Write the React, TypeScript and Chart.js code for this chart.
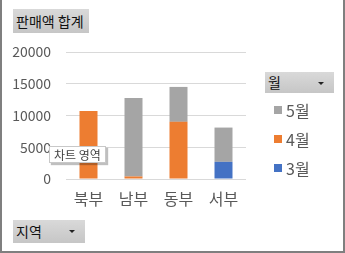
import React, { useEffect, useRef } from "react";
import { Chart, registerables } from "chart.js";

Chart.register(...registerables);

const categories = ["북부", "남부", "동부", "서부"];
const seriesNames = ["3월", "4월", "5월"];
const march = [null, null, null, 2700];
const april = [10700, 400, 9000, null];
const may = [null, 12350, 5500, 5400];
const seriesColors = ["#4472C4", "#ED7D31", "#A5A5A5"];
const yTicks = [0, 5000, 10000, 15000, 20000];

const FONT = "'Noto Sans CJK KR', 'Noto Sans', sans-serif";

function Arrow() {
  return (
    <div
      style={{
        position: "absolute",
        right: 10,
        top: 10,
        width: 0,
        height: 0,
        borderLeft: "3px solid transparent",
        borderRight: "3px solid transparent",
        borderTop: "3px solid #222",
      }}
    />
  );
}

function FieldButton(props: { left: number; top: number; width: number; height: number; label: string; arrow?: boolean }) {
  return (
    <div
      style={{
        position: "absolute",
        left: props.left,
        top: props.top,
        width: props.width,
        height: props.height,
        background: "linear-gradient(to bottom, #d9d9d9, #c6c6c6)",
        fontFamily: FONT,
        fontSize: 14,
        color: "#111",
        lineHeight: props.height + "px",
        paddingLeft: 3,
        boxSizing: "border-box",
        whiteSpace: "nowrap",
      }}
    >
      {props.label}
      {props.arrow ? <Arrow /> : null}
    </div>
  );
}

export default function App() {
  const ref = useRef<HTMLCanvasElement>(null);

  useEffect(() => {
    if (!ref.current) return;
    const data = [march, april, may];
    const chart = new Chart(ref.current, {
      type: "bar",
      data: {
        labels: categories,
        datasets: seriesNames.map((name, i) => ({
          label: name,
          data: data[i],
          backgroundColor: seriesColors[i],
          borderWidth: 0,
          categoryPercentage: 1,
          barPercentage: 0.4,
        })),
      },
      options: {
        animation: false,
        responsive: false,
        maintainAspectRatio: false,
        events: [],
        layout: { padding: { left: 0, right: 99, top: 52, bottom: 0 } },
        plugins: { legend: { display: false }, tooltip: { enabled: false }, title: { display: false } },
        scales: {
          x: {
            stacked: true,
            grid: { display: false, drawTicks: false },
            border: { display: false },
            ticks: { font: { family: FONT, size: 16 }, color: "#595959", padding: 10 },
            afterFit: (s: any) => {
              s.height = 74;
            },
          },
          y: {
            stacked: true,
            min: yTicks[0],
            max: yTicks[yTicks.length - 1],
            afterBuildTicks: (s: any) => {
              s.ticks = yTicks.map((v) => ({ value: v }));
            },
            grid: { color: "#d9d9d9", lineWidth: 1, drawTicks: false },
            border: { display: false },
            ticks: {
              font: { family: FONT, size: 14 },
              color: "#595959",
              padding: 15,
              callback: (v: any) => String(v),
            },
            afterFit: (s: any) => {
              s.width = 66;
            },
          },
        },
      },
    });
    return () => chart.destroy();
  }, []);

  const legendItems = seriesNames.map((n, i) => ({ n, c: seriesColors[i] })).reverse();

  return (
    <div style={{ position: "fixed", left: 0, top: 0, width: 345, height: 253, background: "#fff", overflow: "hidden" }}>
      <canvas ref={ref} width={345} height={253} style={{ position: "absolute", left: 0, top: 0, width: 345, height: 253 }} />
      <FieldButton left={13} top={9} width={76} height={24} label="판매액 합계" />
      <FieldButton left={13} top={220} width={72} height={23} label="지역" arrow />
      <FieldButton left={265} top={72} width={69} height={21} label="월" arrow />
      {legendItems.map((it, k) => (
        <div
          key={it.n}
          style={{
            position: "absolute",
            left: 274,
            top: 100 + k * 29,
            height: 20,
            display: "flex",
            alignItems: "center",
            fontFamily: FONT,
            fontSize: 16,
            color: "#595959",
          }}
        >
          <div style={{ width: 8, height: 8, background: it.c, marginRight: 4 }} />
          <span>{it.n}</span>
        </div>
      ))}
      <div
        style={{
          position: "absolute",
          left: 49,
          top: 146,
          width: 57,
          height: 17,
          background: "#fff",
          border: "1px solid #c8c8c8",
          boxShadow: "2px 2px 1px rgba(0,0,0,0.25)",
          boxSizing: "border-box",
          fontFamily: FONT,
          fontSize: 12,
          lineHeight: "15px",
          color: "#444",
          textAlign: "center",
          whiteSpace: "nowrap",
        }}
      >
        차트 영역
      </div>
      <div style={{ position: "absolute", left: 0, top: 0, width: 2, height: 253, background: "#7f7f7f" }} />
      <div style={{ position: "absolute", right: 0, top: 0, width: 2, height: 253, background: "#7f7f7f" }} />
      <div style={{ position: "absolute", left: 0, bottom: 0, width: 345, height: 2, background: "#7f7f7f" }} />
    </div>
  );
}
